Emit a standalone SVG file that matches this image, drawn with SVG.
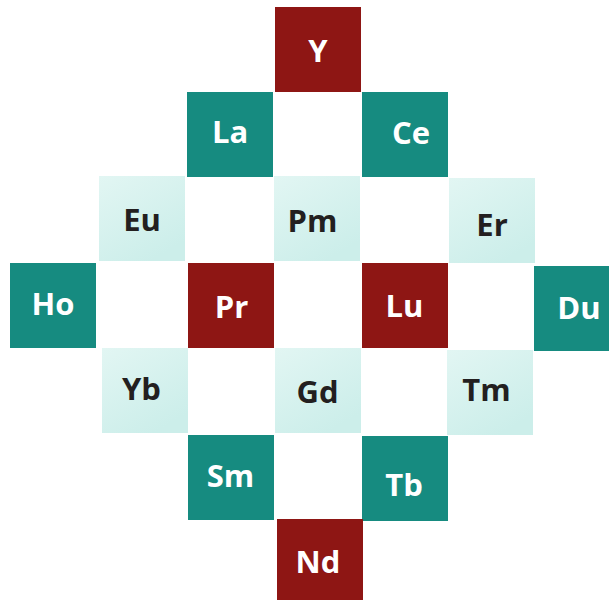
<svg xmlns="http://www.w3.org/2000/svg" width="609" height="600" viewBox="0 0 609 600">
<defs>
<linearGradient id="lg" x1="0" y1="0" x2="0.6" y2="1">
<stop offset="0" stop-color="#E2F6F3"/>
<stop offset="1" stop-color="#CCEEEA"/>
</linearGradient>
<style>
.red{fill:#8E1614}
.teal{fill:#168B80}
.light{fill:url(#lg)}
text{font-family:"Open Sans","Liberation Sans",sans-serif;font-weight:bold;font-size:31px;text-anchor:middle}
.w{fill:#FFFFFF}
.d{fill:#231F20}
</style>
</defs>
<rect width="609" height="600" fill="#FFFFFF"/>
<g id="Y"><rect class="red" x="275" y="7" width="86" height="85"/><text class="w" x="318" y="62">Y</text></g>
<g id="La"><rect class="teal" x="187" y="92" width="86" height="85"/><text class="w" x="230" y="143">La</text></g>
<g id="Ce"><rect class="teal" x="362" y="92" width="86" height="85"/><text class="w" x="411" y="144">Ce</text></g>
<g id="Eu"><rect class="light" x="99" y="176" width="86" height="85"/><text class="d" x="142" y="231">Eu</text></g>
<g id="Pm"><rect class="light" x="274" y="176" width="86" height="85"/><text class="d" x="312.5" y="232">Pm</text></g>
<g id="Er"><rect class="light" x="449" y="178" width="86" height="85"/><text class="d" x="492" y="235.5">Er</text></g>
<g id="Ho"><rect class="teal" x="10" y="263" width="86" height="85"/><text class="w" x="53" y="315">Ho</text></g>
<g id="Pr"><rect class="red" x="188" y="263" width="86" height="85"/><text class="w" x="231.5" y="317.5">Pr</text></g>
<g id="Lu"><rect class="red" x="362" y="263" width="86" height="85"/><text class="w" x="404.5" y="317">Lu</text></g>
<g id="Du"><rect class="teal" x="534" y="266" width="86" height="85"/><text class="w" x="579" y="319">Du</text></g>
<g id="Yb"><rect class="light" x="102" y="348" width="86" height="85"/><text class="d" x="141.5" y="400">Yb</text></g>
<g id="Gd"><rect class="light" x="275" y="348" width="86" height="85"/><text class="d" x="317.5" y="403">Gd</text></g>
<g id="Tm"><rect class="light" x="447" y="350" width="86" height="85"/><text class="d" x="486.5" y="401">Tm</text></g>
<g id="Sm"><rect class="teal" x="188" y="435" width="86" height="85"/><text class="w" x="230.5" y="486.5">Sm</text></g>
<g id="Tb"><rect class="teal" x="362" y="436" width="86" height="85"/><text class="w" x="404" y="495.5">Tb</text></g>
<g id="Nd"><rect class="red" x="277" y="519" width="86" height="85"/><text class="w" x="318" y="573">Nd</text></g>
<g id="connectors"></g>
</svg>
